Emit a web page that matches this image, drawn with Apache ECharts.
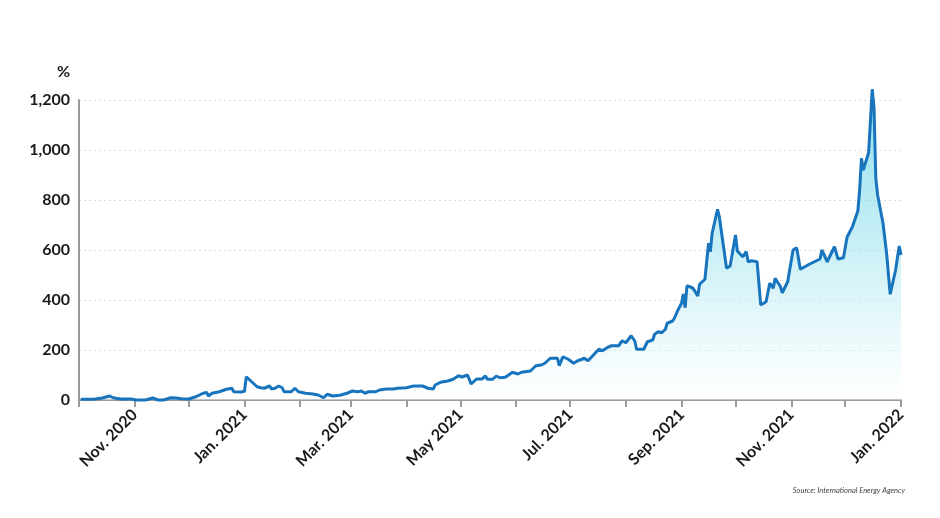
<!DOCTYPE html>
<html>
<head>
<meta charset="utf-8">
<script src="https://cdn.jsdelivr.net/npm/echarts@6/dist/echarts.min.js"></script>
<style>
html,body{margin:0;padding:0;background:#fff;}
#chart{width:940px;height:518px;}
</style>
</head>
<body>
<div id="chart"></div>
<script>
// Dates of observations
const dates = [
'2020-10-02','2020-10-07','2020-10-10','2020-10-14','2020-10-18','2020-10-20','2020-10-24','2020-10-30','2020-10-31',
'2020-11-02','2020-11-07','2020-11-11','2020-11-14','2020-11-17','2020-11-21','2020-11-24','2020-11-27','2020-11-28',
'2020-12-01','2020-12-02','2020-12-05','2020-12-09','2020-12-11','2020-12-12','2020-12-14','2020-12-18','2020-12-22','2020-12-25','2020-12-26','2020-12-30',
'2021-01-01','2021-01-02','2021-01-05','2021-01-08','2021-01-10','2021-01-12','2021-01-15','2021-01-16','2021-01-18','2021-01-20','2021-01-22','2021-01-23','2021-01-27','2021-01-29','2021-01-31',
'2021-02-04','2021-02-08','2021-02-11','2021-02-14','2021-02-16','2021-02-19','2021-02-23','2021-02-27',
'2021-03-02','2021-03-05','2021-03-06','2021-03-07','2021-03-09','2021-03-11','2021-03-15','2021-03-17','2021-03-18','2021-03-21','2021-03-25','2021-03-27',
'2021-04-01','2021-04-05','2021-04-10','2021-04-11','2021-04-13','2021-04-16','2021-04-17','2021-04-20','2021-04-24','2021-04-27','2021-04-30',
'2021-05-02','2021-05-05','2021-05-07','2021-05-10','2021-05-13','2021-05-15','2021-05-16','2021-05-19','2021-05-21','2021-05-23','2021-05-26','2021-05-30',
'2021-06-02','2021-06-04','2021-06-09','2021-06-12','2021-06-15','2021-06-17','2021-06-20','2021-06-24','2021-06-25','2021-06-27','2021-06-30',
'2021-07-03','2021-07-05','2021-07-09','2021-07-11','2021-07-14','2021-07-17','2021-07-19','2021-07-22','2021-07-24','2021-07-28','2021-07-30',
'2021-08-01','2021-08-04','2021-08-06','2021-08-07','2021-08-11','2021-08-12','2021-08-13','2021-08-16','2021-08-17','2021-08-19','2021-08-21','2021-08-23','2021-08-24','2021-08-27','2021-08-28','2021-08-30',
'2021-09-01','2021-09-02','2021-09-03','2021-09-04','2021-09-07','2021-09-08','2021-09-10','2021-09-11','2021-09-14','2021-09-16','2021-09-17','2021-09-18','2021-09-21','2021-09-22','2021-09-26','2021-09-28',
'2021-10-01','2021-10-02','2021-10-05','2021-10-07','2021-10-08','2021-10-10','2021-10-13','2021-10-15','2021-10-18','2021-10-20','2021-10-22','2021-10-23','2021-10-26','2021-10-27','2021-10-30',
'2021-11-02','2021-11-04','2021-11-06','2021-11-11','2021-11-17','2021-11-18','2021-11-21','2021-11-25','2021-11-27','2021-11-30',
'2021-12-02','2021-12-03','2021-12-05','2021-12-08','2021-12-09','2021-12-10','2021-12-11','2021-12-14','2021-12-16','2021-12-17','2021-12-18','2021-12-19','2021-12-22','2021-12-24','2021-12-26','2021-12-29','2021-12-31',
'2022-01-01'
];
// Values (%)
const values = [
3,3,4,8,16,9,4,4,8,
0,0,8,0,0,9,8,5,9,
4,7,13,27,30,16,27,33,43,47,33,32,
35,93,73,53,49,47,56,44,47,56,49,33,33,47,33,
27,24,20,9,23,16,19,27,
36,33,27,36,27,33,33,40,33,44,44,47,
49,56,56,64,47,44,60,71,76,83,97,
92,100,64,84,84,96,83,83,96,89,91,111,
104,111,116,137,140,147,167,167,137,173,163,
147,156,167,157,180,203,197,211,217,217,237,
229,257,236,203,203,200,233,240,263,273,269,283,307,316,327,360,
387,424,369,457,449,440,416,463,483,627,593,667,763,733,527,536,
660,596,573,593,553,557,553,380,393,467,447,487,453,429,473,
600,609,523,543,564,600,553,613,564,569,
651,656,693,756,840,967,920,989,1243,1167,887,820,707,587,423,520,616,
580
];
// Axis ticks
const tickMonths = ['2020-10-01','2020-11-01','2020-12-01','2021-01-01','2021-02-01','2021-03-01','2021-04-01','2021-05-01','2021-06-01','2021-07-01','2021-08-01','2021-09-01','2021-10-01','2021-11-01','2021-12-01','2022-01-01'];
const labelMonths = ['2020-11-01','2021-01-01','2021-03-01','2021-05-01','2021-07-01','2021-09-01','2021-11-01','2022-01-01'];
const labelTexts = ['Nov. 2020','Jan. 2021','Mar. 2021','May 2021','Jul. 2021','Sep. 2021','Nov. 2021','Jan. 2022'];
const yTicks = [0,200,400,600,800,1000,1200];

function ts(s){ const p = s.split('-').map(Number); return Date.UTC(p[0], p[1]-1, p[2]); }
const tickTs = tickMonths.map(ts);
const labelTs = labelMonths.map(ts);
const seriesData = dates.map((d,i)=>[ts(d), values[i]]);

const chart = echarts.init(document.getElementById('chart'), null, {renderer:'canvas'});
const font = 'Lato, "Open Sans", sans-serif';
chart.setOption({
  animation:false,
  backgroundColor:'#ffffff',
  grid:{left:79, right:39, top:100, bottom:118, containLabel:false},
  xAxis:{
    type:'value',
    min:tickTs[0], max:tickTs[tickTs.length-1],
    axisLine:{show:true, onZero:false, lineStyle:{color:'#9a9a9a', width:2}},
    axisTick:{show:true, customValues:tickTs, length:7, lineStyle:{color:'#9a9a9a', width:2}},
    axisLabel:{
      customValues:labelTs,
      rotate:45, margin:12,
      fontFamily:font, fontWeight:'bold', fontSize:16, color:'#1a1a1a',
      formatter:function(v){
        let best=0, bd=Infinity;
        labelTs.forEach((t,i)=>{const d=Math.abs(t-v); if(d<bd){bd=d;best=i;}});
        return labelTexts[best];
      }
    },
    splitLine:{show:false}
  },
  yAxis:{
    type:'value', min:yTicks[0], max:yTicks[yTicks.length-1], interval:200,
    name:'%', nameLocation:'end', nameGap:20,
    nameTextStyle:{fontFamily:font, fontWeight:'bold', fontSize:16, color:'#1a1a1a', align:'right', padding:[0,9,0,0]},
    axisLine:{show:true, lineStyle:{color:'#9a9a9a', width:2}},
    axisTick:{show:false},
    axisLabel:{
      margin:9, fontFamily:font, fontWeight:'bold', fontSize:16, color:'#1a1a1a',
      formatter:function(v){ return v.toLocaleString('en-US'); }
    },
    splitLine:{show:true, lineStyle:{color:'#dcdcdc', type:[2,3], width:1}}
  },
  graphic:[{
    type:'text', right:35, top:487,
    style:{text:'Source: International Energy Agency', font:'italic 7.5px '+font, fill:'#444'}
  }],
  series:[{
    type:'line',
    data:seriesData,
    showSymbol:false, symbol:'none',
    clip:false,
    lineStyle:{color:'#1874bd', width:3},
    areaStyle:{
      color:new echarts.graphic.LinearGradient(0,0,0,1,[
        {offset:0, color:'rgba(80,205,225,0.95)'},
        {offset:0.5, color:'rgba(150,225,238,0.75)'},
        {offset:1, color:'rgba(255,255,255,0.6)'}
      ])
    }
  }]
});
</script>
</body>
</html>
